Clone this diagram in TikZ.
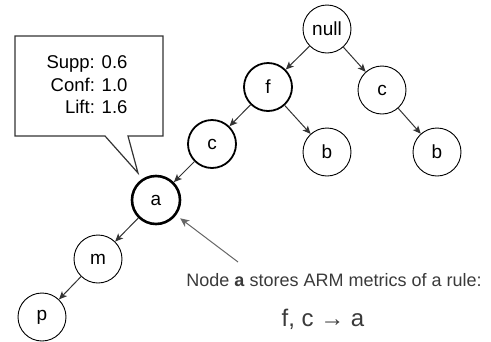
\documentclass[tikz,border=0pt]{standalone}
\usepackage{fontspec}
\setmainfont{Liberation Sans}
\usetikzlibrary{arrows.meta}
\definecolor{edgec}{HTML}{333333}
\definecolor{annc}{HTML}{3A3A3A}
\definecolor{pointc}{HTML}{666666}
\tikzset{
  tn/.style={circle, draw=black, line width=0.9pt, minimum size=48pt, inner sep=0pt,
    font=\fontsize{19}{22}\selectfont},
  tnmid/.style={tn, line width=1.8pt},
  tnthick/.style={tn, line width=2.6pt},
  edge/.style={draw=edgec, line width=1pt, -{Stealth[length=8pt,width=7pt,inset=2pt]}},
  pointer/.style={draw=pointc, line width=1pt, -{Stealth[length=9pt,width=8pt,inset=2.5pt]}, shorten >=5pt},
}
\begin{document}
\begin{tikzpicture}[x=1pt,y=-1pt]
\useasboundingbox (0,0) rectangle (491,341);
% callout
\draw[draw=edgec, fill=white, line width=1.2pt]
  (15,36) -- (163,36) -- (163,136) -- (128,136) -- (138,173) -- (105,136) -- (15,136) -- cycle;
\node[anchor=east, font=\fontsize{18.5}{22.5}\selectfont, align=right] (metrics) at (131,85)
  {Supp: 0.6\\Conf: 1.0\\Lift: 1.6};
% tree nodes
\node[tn] (null) at (327,29) {null};
\node[tnmid] (f) at (268,87) {f};
\node[tn] (cR) at (382,90) {c};
\node[tn] (bM) at (327,152) {b};
\node[tn] (bR) at (437,152) {b};
\node[tnmid] (cL) at (212,144) {c};
\node[tnthick] (a) at (156,200) {a};
\node[tn] (m) at (98,259) {m};
\node[tn] (p) at (42,317) {p};
% edges
\draw[edge] (null) -- (f);
\draw[edge] (null) -- (cR);
\draw[edge] (f) -- (cL);
\draw[edge] (f) -- (bM);
\draw[edge] (cR) -- (bR);
\draw[edge] (cL) -- (a);
\draw[edge] (a) -- (m);
\draw[edge] (m) -- (p);
% annotation
\coordinate (ann) at (238,262);
\draw[pointer] (ann) -- (a);
\node[text=annc, font=\fontsize{18}{22}\selectfont] (note) at (334,280)
  {Node \textbf{a} stores ARM metrics of a rule:};
\node[text=annc, font=\fontsize{24}{28}\selectfont] (rule) at (323,319) {f, c \textbf{→} a};
\end{tikzpicture}
\end{document}
